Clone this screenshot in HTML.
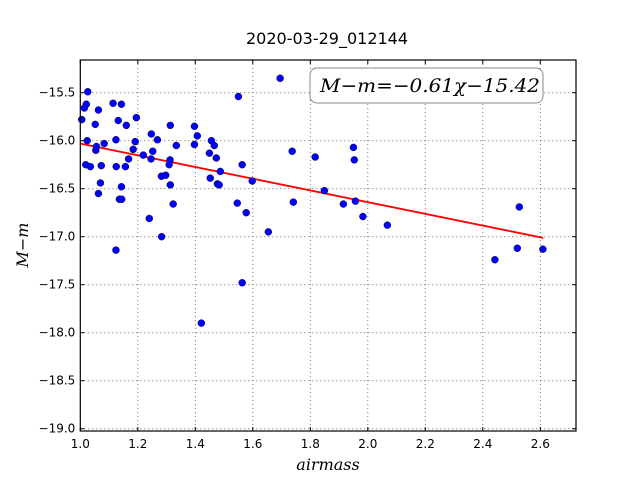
<!DOCTYPE html>
<html><head><meta charset="utf-8"><style>
html,body{margin:0;padding:0;background:#fff;width:640px;height:480px;overflow:hidden}
svg{display:block}
</style></head><body>
<svg id="chart" width="640" height="480" xmlns="http://www.w3.org/2000/svg" font-family="DejaVu Sans, Liberation Sans, sans-serif">
<rect width="640" height="480" fill="#fff"/>
<text x="327" y="44" font-size="16" text-anchor="middle">2020-03-29_012144</text>
<g id="grid"></g>
<g id="ticks"></g>
<g id="fit"></g>
<g id="pts"></g>
<rect x="80.3" y="60" width="495.7" height="371" fill="none" stroke="#000" stroke-width="1.2"/>
<g>
<rect x="310" y="68" width="233" height="35" rx="7" fill="#fff" stroke="#888" stroke-width="1"/>
<text x="320" y="92" font-size="19" textLength="220" lengthAdjust="spacingAndGlyphs" font-family="DejaVu Serif, Liberation Serif, serif" font-style="italic">M−m=−0.61χ−15.42</text>
</g>
<text x="328" y="470" font-size="16" text-anchor="middle" font-family="DejaVu Serif, Liberation Serif, serif" font-style="italic">airmass</text>
<text transform="translate(28,245) rotate(-90)" font-size="16" text-anchor="middle" font-family="DejaVu Serif, Liberation Serif, serif" font-style="italic">M−m</text>
</svg>
<script>
const xTicks=[1.0,1.2,1.4,1.6,1.8,2.0,2.2,2.4,2.6];
const yTicks=[-15.5,-16.0,-16.5,-17.0,-17.5,-18.0,-18.5,-19.0];
const fitSlope=-0.61;
const fitIntercept=-15.42;
const fitRange=[1.0,2.61];
const airmass=[1.026,1.021,1.014,1.005,1.063,1.052,1.024,1.019,1.035,1.056,1.054,1.083,1.073,1.070,1.063,1.114,1.143,1.132,1.124,1.160,1.195,1.125,1.157,1.168,1.191,1.184,1.143,1.136,1.144,1.219,1.240,1.247,1.252,1.246,1.268,1.282,1.297,1.283,1.313,1.312,1.309,1.313,1.323,1.334,1.124,1.397,1.397,1.407,1.456,1.466,1.449,1.473,1.487,1.452,1.477,1.483,1.550,1.563,1.546,1.577,1.598,1.654,1.695,1.737,1.741,1.817,1.849,1.915,1.950,1.953,1.957,1.983,2.068,2.527,2.442,2.520,2.609,1.563,1.421];
const mag=[-15.49,-15.62,-15.66,-15.78,-15.68,-15.83,-16.00,-16.25,-16.27,-16.06,-16.10,-16.03,-16.26,-16.44,-16.55,-15.61,-15.62,-15.79,-15.99,-15.84,-15.76,-16.27,-16.27,-16.19,-16.01,-16.09,-16.48,-16.61,-16.61,-16.15,-16.81,-15.93,-16.11,-16.19,-15.99,-16.37,-16.36,-17.00,-15.84,-16.20,-16.25,-16.46,-16.66,-16.05,-17.14,-15.85,-16.04,-15.95,-16.00,-16.05,-16.13,-16.18,-16.32,-16.39,-16.45,-16.46,-15.54,-16.25,-16.65,-16.75,-16.42,-16.95,-15.35,-16.11,-16.64,-16.17,-16.52,-16.66,-16.07,-16.20,-16.63,-16.79,-16.88,-16.69,-17.24,-17.12,-17.13,-17.48,-17.90];
const L=80.3,R=576,T=60,B=431;
const X=v=>80.3+(v-1.0)*287.5;
const Y=v=>92.7+(-15.5-v)*96;
const NS='http://www.w3.org/2000/svg';
function mk(tag,attrs,parent){const e=document.createElementNS(NS,tag);for(const k in attrs)e.setAttribute(k,attrs[k]);parent.appendChild(e);return e;}
const grid=document.getElementById('grid'),ticks=document.getElementById('ticks');
xTicks.forEach(t=>{const x=X(t);
 const g=mk('line',{x1:x,x2:x,y1:T,y2:B,stroke:'#555','stroke-width':0.8,'stroke-dasharray':'1,3'},grid);
 
 
 mk('line',{x1:x,x2:x,y1:B,y2:B-4,stroke:'#000'},ticks);
 mk('line',{x1:x,x2:x,y1:T,y2:T+4,stroke:'#000'},ticks);
 const l=mk('text',{x:x,y:B+17,'font-size':12,'text-anchor':'middle'},ticks);l.textContent=t.toFixed(1);
 
 
});
yTicks.forEach(t=>{const y=Y(t);
 const g=mk('line',{x1:L,x2:R,y1:y,y2:y,stroke:'#555','stroke-width':0.8,'stroke-dasharray':'1,3'},grid);
 
 
 mk('line',{x1:L,x2:L+4,y1:y,y2:y,stroke:'#000'},ticks);
 mk('line',{x1:R,x2:R-4,y1:y,y2:y,stroke:'#000'},ticks);
 const l=mk('text',{x:L-5,y:y+4,'font-size':12,'text-anchor':'end'},ticks);l.textContent='\u2212'+Math.abs(t).toFixed(1);
 
 
});
const fl=mk('line',{x1:X(fitRange[0]),y1:Y(fitSlope*fitRange[0]+fitIntercept),x2:X(fitRange[1]),y2:Y(fitSlope*fitRange[1]+fitIntercept),stroke:'#f00','stroke-width':1.8},document.getElementById('fit'));


const pts=document.getElementById('pts');
airmass.forEach((a,i)=>{const c=mk('circle',{cx:X(a),cy:Y(mag[i]),r:3.5,fill:'#0000ff',stroke:'#000','stroke-width':0.4},pts);
 
 
});
</script>
</body></html>
